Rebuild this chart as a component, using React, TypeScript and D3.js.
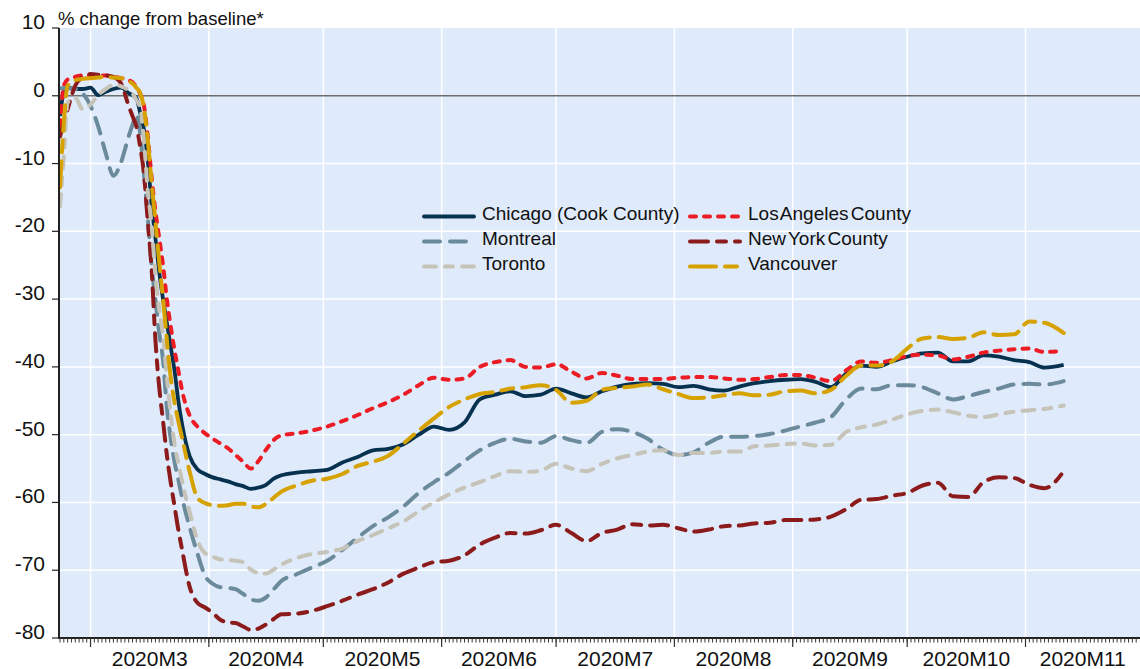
import React from "react";
import * as d3 from "d3";

// daily mobility, 7-day averages
const dates = [
  "2020-02-22", "2020-02-23", "2020-02-24", "2020-02-26", "2020-02-28",
  "2020-03-01", "2020-03-03", "2020-03-05", "2020-03-07", "2020-03-09",
  "2020-03-11", "2020-03-12", "2020-03-13", "2020-03-14", "2020-03-15",
  "2020-03-16", "2020-03-17", "2020-03-18", "2020-03-19", "2020-03-20",
  "2020-03-21", "2020-03-22", "2020-03-23", "2020-03-24", "2020-03-25",
  "2020-03-27", "2020-03-29", "2020-03-31", "2020-04-02", "2020-04-04",
  "2020-04-06", "2020-04-08", "2020-04-10", "2020-04-12", "2020-04-14",
  "2020-04-16", "2020-04-18", "2020-04-20", "2020-04-24", "2020-04-28",
  "2020-05-02", "2020-05-06", "2020-05-10", "2020-05-14", "2020-05-18",
  "2020-05-22", "2020-05-26", "2020-05-30", "2020-06-03", "2020-06-07",
  "2020-06-11", "2020-06-15", "2020-06-19", "2020-06-23", "2020-06-27",
  "2020-07-01", "2020-07-05", "2020-07-09", "2020-07-13", "2020-07-17",
  "2020-07-21", "2020-07-25", "2020-07-29", "2020-08-02", "2020-08-06",
  "2020-08-10", "2020-08-14", "2020-08-18", "2020-08-22", "2020-08-26",
  "2020-08-30", "2020-09-03", "2020-09-07", "2020-09-11", "2020-09-15",
  "2020-09-19", "2020-09-23", "2020-09-27", "2020-10-01", "2020-10-05",
  "2020-10-09", "2020-10-13", "2020-10-17", "2020-10-21", "2020-10-25",
  "2020-10-29", "2020-11-02", "2020-11-06", "2020-11-11",
];

const chicago = [
  -3, 0.5, 1.2, 1.0, 1.0,
  1.2, 0.1, 0.6, 1.0, 1.2,
  0.4, 0.1, -0.3, -2.5, -5,
  -9.5, -16, -21, -26, -30,
  -33.5, -37, -40.5, -45, -48.5,
  -53.2, -55.1, -55.8, -56.3, -56.6,
  -56.9, -57.3, -57.6, -58, -57.8,
  -57.4, -56.5, -56, -55.6, -55.4,
  -55.2, -54.1, -53.3, -52.3, -52.1,
  -51.4, -50, -48.8, -49.3, -48.2,
  -44.8, -44.1, -43.6, -44.3, -44.1,
  -43.2, -43.9, -44.5, -43.6, -42.9,
  -42.5, -42.4, -42.5, -43, -42.8,
  -43.3, -43.5, -42.9, -42.4, -42.1,
  -41.9, -41.8, -42.2, -43, -41,
  -39.8, -40, -39.2, -38.5, -38,
  -37.9, -39.2, -39.2, -38.3, -38.5,
  -39, -39.3, -40.1, -39.7,
];

const losAngeles = [
  -4.5, 1.5, 2.4, 2.8, 3.0,
  3.0, 3.0, 3.0, 2.8, 2.6,
  2.3, 2.0, 1.3, 0.3, -1.5,
  -6, -12, -17, -21, -25,
  -30, -34, -37.5, -40.5, -43.5,
  -47.2, -48.8, -49.8, -50.6, -51.3,
  -52, -53, -54, -55, -53.9,
  -52.2, -50.8, -50.1, -49.8, -49.4,
  -48.8, -48, -47.1, -46.1, -45.2,
  -44.1, -42.7, -41.6, -41.9, -41.7,
  -40, -39.3, -39, -40, -40.1,
  -39.6, -40.7, -41.7, -40.9, -41.3,
  -41.8, -41.8, -41.8, -41.6, -41.5,
  -41.5, -41.7, -41.9, -41.8, -41.5,
  -41.2, -41.2, -41.6, -42.1, -40.5,
  -39.2, -39.4, -39, -38.4, -38.2,
  -38.3, -38.9, -38.5, -37.9, -37.6,
  -37.4, -37.3, -37.8, -37.6,
];

const montreal = [
  1.1, 1.1, 1.1, 1.0, 0.3,
  -1.5, -4.5, -8.5, -11.8, -9.8,
  -6, -4.3, -2.8, -5.5, -11.5,
  -18, -25, -30, -35, -39,
  -46, -50.5, -54, -56.6, -59.3,
  -63.7, -67.5, -70.8, -72, -72.5,
  -72.6, -72.8, -73.5, -74.3, -74.5,
  -74, -72.8, -71.6, -70.6, -69.6,
  -68.6, -67, -65.2, -63.5, -62.2,
  -60.6, -58.6, -57, -55.6, -53.9,
  -52.3, -51.2, -50.6, -51, -51.2,
  -50.2, -50.8, -51.2, -49.6, -49.2,
  -49.6, -50.6, -52.2, -53, -52.6,
  -51.2, -50.3, -50.3, -50.2, -49.9,
  -49.4, -48.8, -48.2, -47.4, -44.8,
  -43.2, -43.3, -42.7, -42.7, -43,
  -43.9, -44.8, -44.3, -43.7, -43.2,
  -42.6, -42.5, -42.6, -42.1,
];

const newYork = [
  -6, -4, -2, 1.5, 2.8,
  3.2, 3.1, 3.0, 2.8, 1.8,
  -1.5, -3, -4.5, -7.5, -11.5,
  -18.5, -25.5, -36, -43, -48,
  -53, -57, -60.5, -64, -67,
  -72.5, -74.8, -75.5, -76.3, -77.3,
  -77.7, -77.8, -78.3, -78.8, -78.6,
  -78, -77.2, -76.5, -76.4, -76,
  -75.3, -74.5, -73.6, -72.8, -71.8,
  -70.5, -69.6, -68.8, -68.6, -67.8,
  -66.2, -65.2, -64.5, -64.6, -64.1,
  -63.3, -64.5, -65.7, -64.5, -64,
  -63.2, -63.4, -63.3, -63.8, -64.3,
  -64, -63.5, -63.4, -63.1, -63,
  -62.6, -62.6, -62.5, -62.1, -61,
  -59.6, -59.5, -59, -58.6, -57.5,
  -57.1, -59.1, -59.2, -57, -56.3,
  -56.4, -57.4, -57.9, -55.4,
];

const toronto = [
  -16.3, -9, -1, -0.3, -2,
  -1.3, 0.1, 1.0, 1.6, 1.4,
  0.8, 0.3, -0.6, -1.8, -6.5,
  -14, -19, -26.5, -31.5, -35.5,
  -41.5, -47, -51.3, -54.2, -56.9,
  -61.5, -65.5, -67.5, -68, -68.4,
  -68.5, -68.6, -68.8, -69.9, -70.4,
  -70.5, -69.9, -69.2, -68.2, -67.6,
  -67.3, -66.8, -65.7, -64.8, -63.8,
  -62.8, -61.3, -60, -58.8, -57.8,
  -57, -56.1, -55.4, -55.5, -55.3,
  -54.3, -55, -55.4, -54.3, -53.5,
  -53, -52.5, -52.3, -53, -52.7,
  -52.7, -52.5, -52.5, -51.7, -51.6,
  -51.4, -51.3, -51.6, -51.5, -49.6,
  -48.9, -48.5, -47.8, -47, -46.5,
  -46.3, -46.7, -47.2, -47.4, -47,
  -46.6, -46.4, -46.2, -45.7,
];

const vancouver = [
  -13.5, -4, 1.5, 2.3, 2.5,
  2.6, 2.7, 2.8, 2.7, 2.6,
  2.2, 1.8, 1.2, 0.4, -1.8,
  -6.5, -12.8, -18.5, -24.5, -30,
  -36, -41.5, -45.2, -48, -50.5,
  -55.5, -59.3, -60.1, -60.4, -60.5,
  -60.4, -60.2, -60.2, -60.6, -60.7,
  -60.2, -59.3, -58.4, -57.5, -56.8,
  -56.5, -55.8, -54.6, -54, -53.1,
  -51.3, -49.4, -47.6, -45.9, -44.8,
  -44, -43.7, -43.2, -43, -42.7,
  -43.4, -45.3, -45, -43.4, -43.1,
  -42.9, -42.6, -43.3, -44, -44.6,
  -44.5, -44.2, -43.9, -44.2, -44.1,
  -43.6, -43.5, -43.9, -43.4, -41.3,
  -39.8, -39.8, -39.2, -37.3, -35.8,
  -35.6, -35.9, -35.7, -34.9, -35.3,
  -35.2, -33.3, -33.5, -35,
];

const yTicks = [10, 0, -10, -20, -30, -40, -50, -60, -70, -80];
const monthLabels = ["2020M3", "2020M4", "2020M5", "2020M6", "2020M7", "2020M8", "2020M9", "2020M10", "2020M11"];

const series = [
  { name: "Chicago (Cook County)", values: chicago, color: "#06324f", dash: "", width: 3.8, ws: 0 },
  { name: "Los Angeles County", values: losAngeles, color: "#ec1c24", dash: "6,8", width: 4, ws: -3 },
  { name: "Montreal", values: montreal, color: "#6b8b9c", dash: "16,10", width: 4, ws: 0 },
  { name: "New York County", values: newYork, color: "#8c1c1c", dash: "18,9,9,9", width: 4, ws: -3 },
  { name: "Toronto", values: toronto, color: "#c6c4b9", dash: "12,9,8,9", width: 4, ws: 0 },
  { name: "Vancouver", values: vancouver, color: "#d6a200", dash: "26,9,12,9", width: 4, ws: 0 },
];

const W = 1140;
const H = 669;
const left = 59;
const right = 1140;
const top = 28;
const bottom = 638;
const font = "'Liberation Sans', Arial, sans-serif";

const parse = d3.utcParse("%Y-%m-%d");
const dateObjs = dates.map((d) => parse(d) as Date);

const x = d3
  .scaleUtc()
  .domain([parse("2020-02-22") as Date, parse("2020-12-01") as Date])
  .range([60, 1140]);
const y = d3.scaleLinear().domain([-80, 10]).range([bottom, top]);

const monthStarts = d3.utcMonth.range(parse("2020-03-01") as Date, parse("2020-12-01") as Date);
const days = d3.utcDay.range(parse("2020-02-22") as Date, parse("2020-12-01") as Date);

const line = d3
  .line<number>()
  .x((_, i) => x(dateObjs[i]))
  .y((v) => y(v))
  .curve(d3.curveMonotoneX);

const App = () => {
  return (
    <div style={{ position: "absolute", left: 0, top: 0 }}>
      <svg width={W} height={H} style={{ display: "block", background: "#fff" }}>
        <rect x={left} y={top} width={right - left} height={bottom - top} fill="#dfeafb" />

        {/* grid */}
        {yTicks
          .filter((t) => t !== 0 && t !== -80 && t !== 10)
          .map((t) => (
            <line key={"gy" + t} x1={left} x2={right} y1={y(t)} y2={y(t)} stroke="#fff" strokeWidth={1.5} />
          ))}
        {monthStarts.map((m, i) => (
          <line key={"gx" + i} x1={x(m)} x2={x(m)} y1={top} y2={bottom} stroke="#fff" strokeWidth={1.5} />
        ))}
        <line x1={left} x2={right} y1={y(0)} y2={y(0)} stroke="#6e6e6e" strokeWidth={1.5} />

        {/* series */}
        {series.map((s) => (
          <path
            key={s.name}
            d={line(s.values) || ""}
            fill="none"
            stroke={s.color}
            strokeWidth={s.width}
            strokeDasharray={s.dash || undefined}
            strokeLinecap={s.dash ? "round" : "butt"}
            strokeLinejoin="round"
          />
        ))}

        {/* legend */}
        {series.map((s, i) => {
          const col = i % 2;
          const row = Math.floor(i / 2);
          const lx = col === 0 ? 422 : 688;
          const by = 220 + row * 25;
          return (
            <g key={"lg" + s.name}>
              <line
                x1={lx + 2}
                x2={lx + 52}
                y1={by - 3.5}
                y2={by - 3.5}
                stroke={s.color}
                strokeWidth={s.width}
                strokeDasharray={s.dash || undefined}
                strokeLinecap="round"
              />
              <text x={lx + 60} y={by} fontSize={19} fontFamily={font} fill="#111" style={{ wordSpacing: s.ws + "px" }}>
                {s.name}
              </text>
            </g>
          );
        })}

        {/* axes */}
        <line x1={left} x2={left} y1={top} y2={bottom + 1} stroke="#222" strokeWidth={2} />
        <line x1={left} x2={right} y1={bottom} y2={bottom} stroke="#222" strokeWidth={2} />
        {yTicks.map((t) => (
          <g key={"yt" + t}>
            <line x1={52} x2={left} y1={y(t)} y2={y(t)} stroke="#222" strokeWidth={1.2} />
            <text x={45} y={y(t) + 1} textAnchor="end" fontSize={21} fontFamily={font} fill="#111">
              {t}
            </text>
          </g>
        ))}
        {days.map((d, i) => (
          <line key={"dt" + i} x1={x(d)} x2={x(d)} y1={bottom} y2={bottom + 4.5} stroke="#333" strokeWidth={1} />
        ))}
        {monthStarts.map((m, i) => (
          <line key={"mt" + i} x1={x(m)} x2={x(m)} y1={bottom} y2={bottom + 9} stroke="#333" strokeWidth={1.2} />
        ))}
        {monthStarts.map((m, i) => {
          const next = d3.utcMonth.offset(m, 1);
          return (
            <text
              key={"ml" + i}
              x={(x(m) + x(next)) / 2}
              y={666}
              textAnchor="middle"
              fontSize={21}
              fontFamily={font}
              fill="#111"
            >
              {monthLabels[i]}
            </text>
          );
        })}
        <text x={58} y={25} fontSize={18.5} fontFamily={font} fill="#111">
          % change from baseline*
        </text>
      </svg>
    </div>
  );
};

export default App;
